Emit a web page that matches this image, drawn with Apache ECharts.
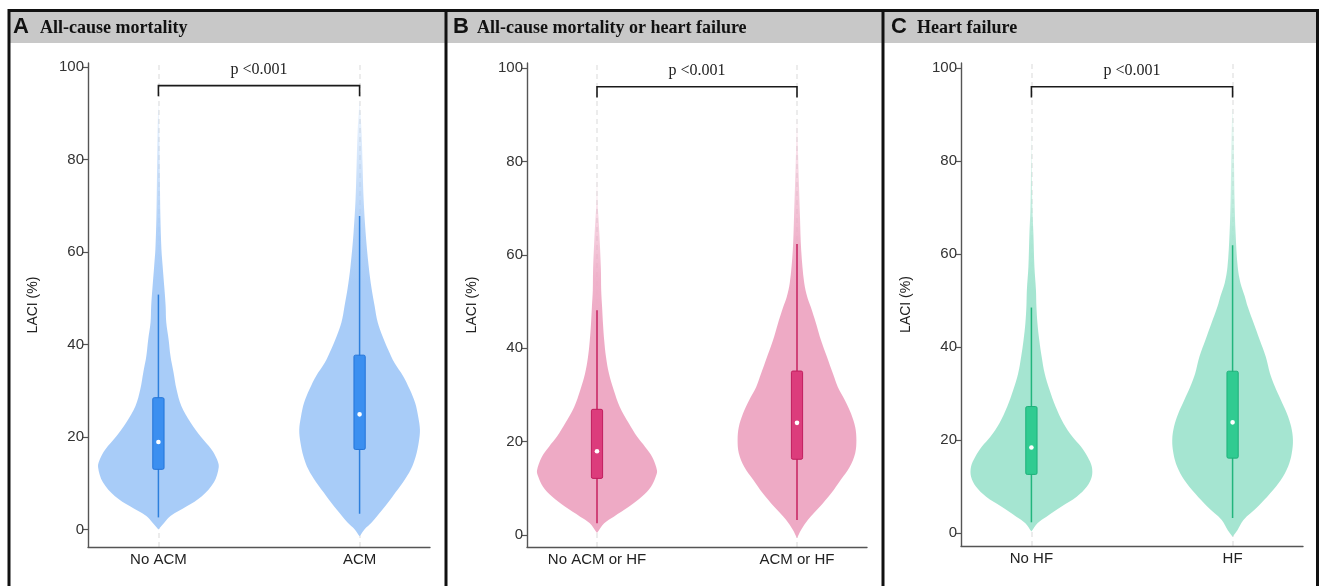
<!DOCTYPE html>
<html><head><meta charset="utf-8">
<script src="https://cdn.jsdelivr.net/npm/echarts@6/dist/echarts.min.js"></script>
<style>html,body{margin:0;padding:0;background:#fff}#c{width:1319px;height:586px}</style>
</head><body><div id="c"></div>
<script>
// ---------------- DATA ----------------
const categoriesA = ['No ACM', 'ACM'];
const categoriesB = ['No ACM or HF', 'ACM or HF'];
const categoriesC = ['No HF', 'HF'];
const yTicks = [0, 20, 40, 60, 80, 100];
const pLabel = 'p <0.001';
const bracketLevel = 96;     // LACI % level of the significance bracket
const bracketDrop = 2.3;
const pLabelLevel = 99.4;

// violin density profiles: [LACI value, relative half-width]
const violinNoACM = [[0,0],[1.5,0.1],[2.9,0.2],[5,0.47],[7.2,0.72],[10.2,0.92],[13.5,1.0],[15.2,0.97],[17.3,0.88],[20.1,0.7],[23.2,0.53],[26.7,0.38],[30.3,0.3],[34,0.25],[37.5,0.2],[41,0.17],[44.8,0.13],[48.3,0.12],[52,0.1],[57,0.07],[60.6,0.05],[67.7,0.033],[75,0.025],[86,0.015],[93,0]];
const violinACM = [[-1.5,0],[0,0.08],[1.5,0.2],[4.3,0.38],[7.2,0.55],[10.2,0.72],[13,0.85],[15.8,0.93],[18.8,0.98],[21.6,1.0],[24.5,0.97],[27.4,0.92],[30.3,0.83],[33.2,0.72],[36,0.58],[39,0.47],[41.8,0.38],[44.8,0.3],[48.3,0.25],[52,0.2],[57,0.15],[64.2,0.1],[71.4,0.067],[78.6,0.05],[86,0.033],[93,0]];
const violinNoACMHF = [[0.4,0],[2.5,0.12],[3.9,0.28],[6,0.53],[8.2,0.75],[10.3,0.9],[12.5,0.98],[13.8,1.0],[16.7,0.92],[18.9,0.8],[21,0.67],[23.9,0.53],[27.4,0.38],[31,0.28],[34.5,0.2],[38.1,0.15],[41.7,0.12],[45.2,0.1],[48.8,0.085],[52.4,0.07],[57,0.065],[64.5,0.04],[68,0.025],[71,0.01],[78,0]];
const violinACMHF = [[-0.7,0],[1.1,0.07],[3.2,0.18],[6,0.38],[8.9,0.57],[11.8,0.73],[14.6,0.88],[17.5,0.97],[20.3,0.99],[23.1,0.97],[26,0.9],[28.8,0.8],[31.7,0.68],[34.5,0.6],[38.1,0.5],[41.7,0.4],[45.2,0.32],[48.8,0.23],[51,0.17],[54,0.12],[61,0.07],[68,0.05],[75,0.033],[82,0.017],[90,0]];
const violinNoHF = [[0.3,0],[2.1,0.1],[3.5,0.25],[5.7,0.5],[7.8,0.75],[10,0.92],[12.1,1.0],[14.3,1.0],[16.4,0.93],[18.6,0.82],[20.7,0.68],[23.6,0.53],[27.2,0.4],[30.8,0.3],[34.3,0.22],[37.9,0.17],[41.5,0.13],[45.1,0.1],[48.7,0.083],[52.3,0.075],[57.2,0.05],[64.5,0.033],[69.5,0.017],[80,0.005],[90,0]];
const violinHF = [[-0.8,0],[0.6,0.08],[2.8,0.18],[5.7,0.42],[8.5,0.62],[11.4,0.8],[14.3,0.92],[17.1,0.98],[20,1.0],[22.9,0.97],[25.7,0.9],[28.6,0.8],[31.5,0.7],[34.3,0.62],[37.9,0.55],[41.5,0.45],[45.1,0.35],[48.7,0.25],[51,0.2],[53.8,0.13],[57.2,0.085],[64.5,0.05],[71.6,0.033],[78.7,0.025],[86,0.017],[92,0]];

// box stats: [whisker low, Q1, median, Q3, whisker high]
const boxA = [[2.6,13,18.9,28.5,50.8],[3.4,17.3,24.9,37.7,67.8]];
const boxB = [[2.5,12.1,17.9,26.9,48.1],[3.2,16.2,24,35.1,62.3]];
const boxC = [[2.3,12.6,18.4,27.2,48.5],[3.2,16.1,23.8,34.8,61.9]];

// ---------------- STYLE ----------------
const panels = [
  {letter:'A', title:'All-cause mortality', titleSize:18, cats:categoriesA, violins:[violinNoACM, violinACM], box:boxA,
   grid:{left:88, top:63, width:342, height:484}, ymin:-3.8, ymax:100.9,
   col:{violin:'168,204,248', box:'#3b8ff0', stroke:'#2474d8', whisker:'#2d7fdc'},
   letterX:13, titleX:40},
  {letter:'B', title:'All-cause mortality or heart failure', titleSize:18, cats:categoriesB, violins:[violinNoACMHF, violinACMHF], box:boxB,
   grid:{left:527, top:63, width:340, height:484}, ymin:-2.6, ymax:101.1,
   col:{violin:'238,170,197', box:'#dc3c7c', stroke:'#c01c5d', whisker:'#c6215f'},
   letterX:453, titleX:477},
  {letter:'C', title:'Heart failure', titleSize:18, cats:categoriesC, violins:[violinNoHF, violinHF], box:boxC,
   grid:{left:961, top:63, width:342, height:483}, ymin:-2.8, ymax:101.1,
   col:{violin:'165,229,209', box:'#30cb91', stroke:'#1fb07a', whisker:'#22b57d'},
   letterX:891, titleX:917}
];
const MAX_HW = 0.3;      // x-units for relative width 1
const BOX_HALF = 0.028;

const chart = echarts.init(document.getElementById('c'), null, {renderer:'canvas'});
const grids = [], xAxes = [], yAxes = [], series = [];

panels.forEach((p, i) => {
  grids.push(Object.assign({containLabel:false}, p.grid));
  xAxes.push({
    gridIndex:i, type:'value', min:0.65, max:2.35,
    axisLine:{show:true, onZero:false, lineStyle:{color:'#555', width:1.4}},
    axisTick:{show:false}, splitLine:{show:false},
    axisLabel:{customValues:[1,2], formatter:v => p.cats[Math.round(v)-1], color:'#222',
               fontSize:15, fontFamily:'Liberation Sans, Arial', margin:5}
  });
  yAxes.push({
    gridIndex:i, type:'value', min:p.ymin, max:p.ymax,
    axisLine:{show:true, onZero:false, lineStyle:{color:'#555', width:1.4}},
    axisTick:{show:true, customValues:yTicks, length:5, lineStyle:{color:'#555', width:1.2}},
    axisLabel:{customValues:yTicks, color:'#333', fontSize:15, fontFamily:'Liberation Sans, Arial', margin:4},
    splitLine:{show:false},
    name:'LACI (%)', nameLocation:'middle', nameGap:48,
    nameTextStyle:{color:'#222', fontSize:14, fontFamily:'Liberation Sans, Arial'}
  });
  // faint dashed category guides
  series.push({
    type:'line', xAxisIndex:i, yAxisIndex:i, data:[], z:0, silent:true,
    markLine:{silent:true, z:0, symbol:['none','none'], label:{show:false},
      lineStyle:{color:'#e6e6e6', type:[5,4], width:1.5},
      emphasis:{disabled:true},
      data:[{xAxis:1},{xAxis:2}]}
  });
  // violins
  series.push({
    type:'custom', xAxisIndex:i, yAxisIndex:i, z:2, silent:true,
    data:p.box.map((b, k) => [k+1, b[2]]),
    encode:{x:0, y:1},
    renderItem:(params, api) => {
      const idx = api.value(0);
      const prof = p.violins[idx-1];
      const left = [], right = [];
      prof.forEach(([v, w]) => {
        left.push(api.coord([idx - w*MAX_HW, v]));
        right.push(api.coord([idx + w*MAX_HW, v]));
      });
      const pts = left.concat(right.reverse());
      const c = p.col.violin;
      return {type:'polygon', shape:{points:pts, smooth:0.35},
        style:{fill:new echarts.graphic.LinearGradient(0,0,0,1,[
          {offset:0, color:'rgba('+c+',0.15)'},
          {offset:0.3, color:'rgba('+c+',0.9)'},
          {offset:0.42, color:'rgba('+c+',1)'},
          {offset:1, color:'rgba('+c+',1)'}]), stroke:null}};
    }
  });
  // box plots
  series.push({
    type:'custom', xAxisIndex:i, yAxisIndex:i, z:3, silent:true,
    data:p.box.map((b, k) => [k+1].concat(b)),
    encode:{x:0, y:3},
    renderItem:(params, api) => {
      const idx = api.value(0);
      const lo = api.value(1), q1 = api.value(2), med = api.value(3), q3 = api.value(4), hi = api.value(5);
      const pLo = api.coord([idx, lo]), pHi = api.coord([idx, hi]);
      const a = api.coord([idx - BOX_HALF, q1]), b = api.coord([idx + BOX_HALF, q3]);
      const m = api.coord([idx, med]);
      return {type:'group', children:[
        {type:'line', shape:{x1:pLo[0], y1:pLo[1], x2:pHi[0], y2:pHi[1]}, style:{stroke:p.col.whisker, lineWidth:1.5}},
        {type:'rect', shape:{x:a[0], y:b[1], width:b[0]-a[0], height:a[1]-b[1], r:1.5},
          style:{fill:p.col.box, stroke:p.col.stroke, lineWidth:1}},
        {type:'circle', shape:{cx:m[0], cy:m[1], r:2.3}, style:{fill:'#fff'}}
      ]};
    }
  });
  // significance bracket
  series.push({
    type:'custom', xAxisIndex:i, yAxisIndex:i, z:4, silent:true,
    data:[[1, bracketLevel, 2]],
    encode:{x:0, y:1},
    renderItem:(params, api) => {
      const x1 = api.value(0), lv = api.value(1), x2 = api.value(2);
      const pts = [api.coord([x1, lv - bracketDrop]), api.coord([x1, lv]), api.coord([x2, lv]), api.coord([x2, lv - bracketDrop])];
      const t = api.coord([(x1 + x2)/2, pLabelLevel]);
      return {type:'group', children:[
        {type:'polyline', shape:{points:pts}, style:{stroke:'#1a1a1a', lineWidth:1.6, fill:null}},
        {type:'text', x:t[0], y:t[1], style:{text:pLabel, fill:'#222', font:'16px "Liberation Serif", "Times New Roman", serif',
          textAlign:'center', textVerticalAlign:'middle'}}
      ]};
    }
  });
});

// decorative frame and panel headers
const graphic = [
  {type:'rect', shape:{x:9, y:11, width:1308, height:32}, style:{fill:'#c8c8c8'}, z:0, silent:true},
  {type:'rect', shape:{x:9, y:10.5, width:1308.5, height:590}, style:{fill:null, stroke:'#111', lineWidth:3}, z:10, silent:true},
  {type:'line', shape:{x1:446, y1:10, x2:446, y2:590}, style:{stroke:'#111', lineWidth:3}, z:10, silent:true},
  {type:'line', shape:{x1:883, y1:10, x2:883, y2:590}, style:{stroke:'#111', lineWidth:3}, z:10, silent:true}
];
panels.forEach(p => {
  graphic.push({type:'text', x:p.letterX, y:27, z:11, silent:true,
    style:{text:p.letter, fill:'#111', font:'bold 22px "Liberation Sans", Arial, sans-serif', textVerticalAlign:'middle'}});
  graphic.push({type:'text', x:p.titleX, y:28, z:11, silent:true,
    style:{text:p.title, fill:'#111', font:'bold ' + p.titleSize + 'px "Liberation Serif", "Times New Roman", serif', textVerticalAlign:'middle'}});
});

chart.setOption({
  animation:false,
  backgroundColor:'#ffffff',
  grid:grids, xAxis:xAxes, yAxis:yAxes, series:series, graphic:graphic
});
</script></body></html>
